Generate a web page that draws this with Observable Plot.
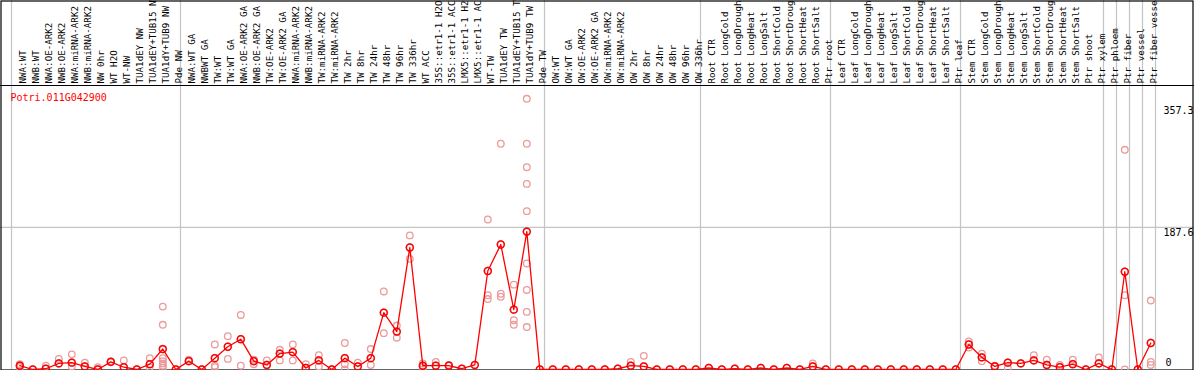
<!DOCTYPE html>
<html><head><meta charset="utf-8">
<script src="https://cdn.jsdelivr.net/npm/d3@7"></script>
<script src="https://cdn.jsdelivr.net/npm/@observablehq/plot@0.6"></script>
<style>body{margin:0;background:#fff;} svg{overflow:hidden;}</style>
</head><body><div id="chart"></div>
<script>
const geneId = "Potri.011G042900";

const labels = [
  "NWA:WT","NWB:WT","NWA:OE-ARK2","NWB:OE-ARK2","NWA:miRNA-ARK2","NWB:miRNA-ARK2","NW 0hr","WT H2O","WT-NW","TUA1dEY NW","TUA1dEY+TUB15 NW","TUA1dY+TUB9 NW","Pde NW",
  "NWA:WT GA","NWBWT GA","TW:WT","TW:WT GA","NWA:OE-ARK2 GA","NWB:OE-ARK2 GA","TW:OE-ARK2","TW:OE-ARK2 GA","NWA:miRNA-ARK2","NWB:miRNA-ARK2","TW:miRNA-ARK2","TW:miRNA-ARK2","TW 2hr","TW 8hr","TW 24hr","TW 48hr","TW 96hr","TW 336hr","WT ACC","35S::etr1-1 H2O","35S::etr1-1 ACC","LMX5::etr1-1 H2O","LMX5::etr1-1 ACC","WT-TW","TUA1dEY TW","TUA1dEY+TUB15 TW","TUA1dY+TUB9 TW","Pde TW",
  "OW:WT","OW:WT GA","OW:OE-ARK2","OW:OE-ARK2 GA","OW:miRNA-ARK2","OW:miRNA-ARK2","OW 2hr","OW 8hr","OW 24hr","OW 48hr","OW 96hr","OW 336hr",
  "Root CTR","Root LongCold","Root LongDrought","Root LongHeat","Root LongSalt","Root ShortCold","Root ShortDrought","Root ShortHeat","Root ShortSalt","Ptr root",
  "Leaf CTR","Leaf LongCold","Leaf LongDrought","Leaf LongHeat","Leaf LongSalt","Leaf ShortCold","Leaf ShortDrought","Leaf ShortHeat","Leaf ShortSalt","Ptr leaf",
  "Stem CTR","Stem LongCold","Stem LongDrought","Stem LongHeat","Stem LongSalt","Stem ShortCold","Stem ShortDrought","Stem ShortHeat","Stem ShortSalt","Ptr shoot","Ptr xylem",
  "Ptr phloem","Ptr fiber","Ptr vessel","Ptr fiber vessel"
];

const means = [
  5,0,1,8,9,4,0,10,3,0,7,27,0,
  11,0,15,30,40,11,6,21,23,2,12,0,15,4,15,75,50,161,5,5,5,1,6,130,165,79,182,0,
  0,0,0,0,0,1,5,4,0,0,0,0,
  2,0,1,0,2,0,2,0,4,0,
  0,0,0,0,0,0,0,0,0,0,
  33,16,4,9,8,12,6,3,7,0,8,
  0,129,0,35
];

const replicates = [
  [7,3],[],[5],[14],[20,4],[9],[3],[11],[12],[],[15,3],[83,59,15,11,8,5,2],[],
  [13],[],[33,5,3],[44,14],[72,5],[13,7],[12],[26,12],[33,12],[7],[19,4],[],[35,7,0],[9],[27,6],[103,48],[58,42],[177,146],[8,3],[10],[6],[],[],[198,98,93],[298,100,96],[112,65,59],[357.3,298,267,245,209,140,105,76,56],[],
  [],[],[],[],[],[],[10],[18],[],[],[],[],
  [],[],[],[],[],[],[],[],[8],[],
  [],[],[],[],[],[],[],[],[],[],
  [37,29],[21,11],[5],[2],[],[19],[13],[6],[13],[],[16],
  [],[290,98,0],[],[91,10,6]
];

const groupBreaks = [0,13,41,53,63,73,84,85,86,87,88];
const topTick = [357.3];
const midTick = [187.6];
const zeroTick = [0];

const meanData = means.map((v, i) => ({i, v, label: labels[i]}));
const repData = replicates.flatMap((arr, i) => arr.map(v => ({i, v})));

const W = 1194, H = 370, ML = 11, MR = 39, MT = 85, MB = 1;
const off = 1.8;
const font = "DejaVu Sans Mono";

const chart = Plot.plot({
  width: W, height: H,
  marginLeft: ML, marginRight: MR, marginTop: MT, marginBottom: MB,
  x: {type: "linear", domain: [0, 88], axis: null},
  y: {domain: [0, 357.3], range: [369, 98.3], axis: null},
  style: {fontFamily: font, background: "white", overflow: "hidden"},
  marks: [
    Plot.ruleX(groupBreaks, {stroke: "#c4c4c4", strokeWidth: 1.2, insetTop: -MT}),
    Plot.ruleY(midTick, {stroke: "#c4c4c4", strokeWidth: 1.2, insetLeft: -ML, insetRight: -MR}),
    Plot.frame({stroke: "black", strokeWidth: 1.2, insetLeft: -10.5, insetRight: -37.5, insetTop: -84.5, insetBottom: -0.5}),
    Plot.frame({anchor: "top", stroke: "black", strokeWidth: 1.2, insetLeft: -ML, insetRight: -MR}),
    Plot.text(meanData, {x: d => d.i + 0.5, dx: off, frameAnchor: "top", dy: -2, text: "label", rotate: -90, textAnchor: "start", fontSize: 9.2, fill: "black"}),
    Plot.text([geneId], {frameAnchor: "top-left", dx: -1, dy: 8, lineAnchor: "top", textAnchor: "start", fill: "red", fontSize: 10}),
    Plot.text(topTick, {y: d => d, text: d => String(d), frameAnchor: "right", dx: 8, dy: 11.7, textAnchor: "start", fontSize: 10, fill: "black"}),
    Plot.text(midTick, {y: d => d, text: d => String(d), frameAnchor: "right", dx: 8, dy: 5, textAnchor: "start", fontSize: 10, fill: "black"}),
    Plot.text(zeroTick, {y: d => d, text: d => String(d), frameAnchor: "right", dx: 10, dy: -7, textAnchor: "start", fontSize: 10, fill: "black"}),
    Plot.dot(repData, {x: d => d.i + 0.5, y: "v", dx: off, r: 3.3, stroke: "#ec9a9a", strokeWidth: 1.3, fill: "none"}),
    Plot.line(meanData, {x: d => d.i + 0.5, y: "v", dx: off, stroke: "red", strokeWidth: 1.3}),
    Plot.dot(meanData, {x: d => d.i + 0.5, y: "v", dx: off, r: 3.9, stroke: "#600", strokeWidth: 0.4, fill: "none"}),
    Plot.dot(meanData, {x: d => d.i + 0.5, y: "v", dx: off, r: 3.4, stroke: "red", strokeWidth: 1.5, fill: "none"})
  ]
});
document.getElementById("chart").appendChild(chart);
</script>
</body></html>
